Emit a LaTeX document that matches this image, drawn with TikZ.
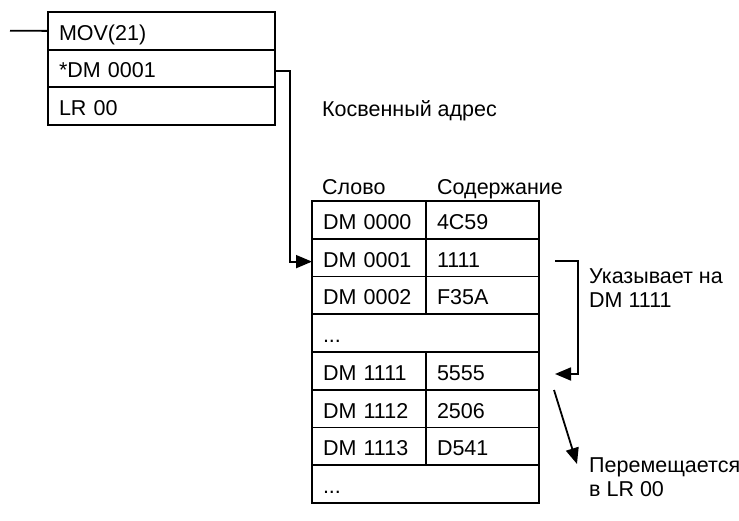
\documentclass[tikz,border=0pt]{standalone}
\usepackage{fontspec}
\setmainfont{Liberation Sans}
\usetikzlibrary{arrows.meta}
\newcommand{\lab}{\fontsize{21.5}{24}\selectfont}
\tikzset{
  cell/.style={draw, line width=1.8pt, anchor=north west, outer sep=0pt,
    minimum height=37.75pt, inner xsep=11pt, inner ysep=0pt, align=left,
    text height=19pt, text depth=0pt, font=\lab},
  lcol/.style={cell, text width=92pt},
  rcol/.style={cell, text width=91pt},
  wide/.style={cell, text width=205pt},
  conn/.style={line width=1.8pt},
  arr/.style={conn, -{Triangle[length=16pt,width=13pt]}},
  txt/.style={font=\lab, inner sep=0pt, align=left}
}
\begin{document}
\begin{tikzpicture}[x=1pt,y=-1pt]
\useasboundingbox[fill=white] (0,0) rectangle (739,521);
% instruction block
\node[wide] (mov) at (48,12) {MOV(21)};
\node[wide] (src) at (48,49.5) {*DM 0001};
\node[wide] (dst) at (48,87) {LR 00};
\coordinate (in) at (10,30.75);
\draw[conn] (in) -- (mov.west);
% label
\node[txt, anchor=base west] (ind) at (322,117) {Косвенный адрес};
% table headers
\node[txt, anchor=base west] (hw) at (322,195) {Слово};
\node[txt, anchor=base west] (hc) at (437,195) {Содержание};
% table
\node[lcol] (a0) at (312,201) {DM 0000};
\node[rcol] (b0) at (426,201) {4C59};
\node[lcol] (a1) at (312,238.75) {DM 0001};
\node[rcol] (b1) at (426,238.75) {1111};
\node[lcol] (a2) at (312,276.5) {DM 0002};
\node[rcol] (b2) at (426,276.5) {F35A};
\node[wide] (e1) at (312,314.25) {...};
\node[lcol] (a3) at (312,352) {DM 1111};
\node[rcol] (b3) at (426,352) {5555};
\node[lcol] (a4) at (312,389.75) {DM 1112};
\node[rcol] (b4) at (426,389.75) {2506};
\node[lcol] (a5) at (312,427.5) {DM 1113};
\node[rcol] (b5) at (426,427.5) {D541};
\node[wide] (e2) at (312,465.25) {...};
% indirect connector
\draw[arr] ([yshift=-3pt]src.east) -- ++(15,0) |- ([yshift=-4pt]a1.west);
% pointer bracket
\coordinate (p1) at (555,261);
\coordinate (p2) at (555,374);
\draw[arr] (p1) -- ++(23,0) |- (p2);
\node[txt, anchor=base west] (pt) at (589,308) {Указывает на\\DM 1111};
% move arrow
\coordinate (m1) at (554,390);
\coordinate (m2) at (577,464);
\draw[arr] (m1) -- (m2);
\node[txt, anchor=base west] (mt) at (589,496) {Перемещается\\в LR 00};
\end{tikzpicture}
\end{document}
